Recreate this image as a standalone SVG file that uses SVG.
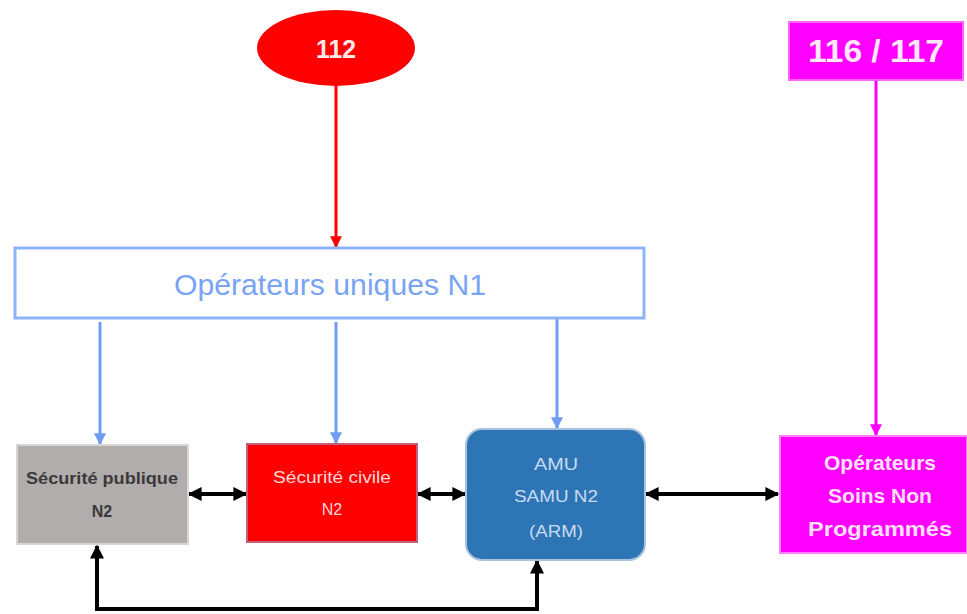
<svg xmlns="http://www.w3.org/2000/svg" width="967" height="614" viewBox="0 0 967 614">
<style>
text{font-family:"Liberation Sans","DejaVu Sans",sans-serif;text-anchor:middle}
.blue{stroke:#6f9cf5;stroke-width:3;fill:none}
.blk{stroke:#000;stroke-width:4;fill:none}
.amu{font-size:17px;fill:#c9dcf0}
</style>
<defs>
<marker id="ab" viewBox="0 0 10 10" refX="9" refY="5" markerWidth="4" markerHeight="4" orient="auto"><path d="M0,0L10,5L0,10z" fill="#6f9cf5"/></marker>
<marker id="ar" viewBox="0 0 10 10" refX="9" refY="5" markerWidth="4" markerHeight="4" orient="auto"><path d="M0,0L10,5L0,10z" fill="#ff0000"/></marker>
<marker id="am" viewBox="0 0 10 10" refX="9" refY="5" markerWidth="4" markerHeight="4" orient="auto"><path d="M0,0L10,5L0,10z" fill="#ff00ff"/></marker>
<marker id="ak" viewBox="0 0 10 10" refX="9" refY="5" markerWidth="3.5" markerHeight="3.5" orient="auto-start-reverse"><path d="M0,0L10,5L0,10z" fill="#000"/></marker>
</defs>
<g id="connectors">
<line x1="336" y1="86" x2="336" y2="247" stroke="#ff0000" stroke-width="3" marker-end="url(#ar)"/>
<line x1="876" y1="80" x2="876" y2="435" stroke="#ff00ff" stroke-width="3" marker-end="url(#am)"/>
<line class="blue" x1="100" y1="322" x2="100" y2="444" marker-end="url(#ab)"/>
<line class="blue" x1="336" y1="322" x2="336" y2="443" marker-end="url(#ab)"/>
<line class="blue" x1="557" y1="318" x2="557" y2="428" marker-end="url(#ab)"/>
<line class="blk" x1="189" y1="494" x2="246" y2="494" marker-start="url(#ak)" marker-end="url(#ak)"/>
<line class="blk" x1="418" y1="494" x2="465" y2="494" marker-start="url(#ak)" marker-end="url(#ak)"/>
<line class="blk" x1="646" y1="494" x2="778" y2="494" marker-start="url(#ak)" marker-end="url(#ak)"/>
<polyline class="blk" points="97,546 97,609 537,609 537,561" marker-start="url(#ak)" marker-end="url(#ak)"/>
</g>
<g id="n112">
<ellipse cx="336" cy="48" rx="79" ry="38" fill="#ff0000"/>
<text x="336" y="58" font-size="26" font-weight="bold" fill="#ffe8e8" textLength="40" lengthAdjust="spacingAndGlyphs">112</text>
</g>
<g id="n116">
<rect x="789" y="22" width="174" height="58" fill="#ff00ff" stroke="#ff66ff" stroke-width="2"/>
<text x="876" y="62" font-size="31" font-weight="bold" fill="#ffe8ff" textLength="136" lengthAdjust="spacingAndGlyphs">116 / 117</text>
</g>
<g id="n1">
<rect x="15" y="248" width="629" height="70" fill="#fff" stroke="#8fb3f8" stroke-width="3"/>
<text x="330" y="295" font-size="29" fill="#7aa3f5" textLength="312" lengthAdjust="spacingAndGlyphs">Opérateurs uniques N1</text>
</g>
<g id="secpub">
<rect x="17" y="445" width="171" height="99" fill="#b1adac" stroke="#d8d6d5" stroke-width="2"/>
<text x="102" y="484" font-size="16" font-weight="bold" fill="#3a3a3a" textLength="152" lengthAdjust="spacingAndGlyphs">Sécurité publique</text>
<text x="102" y="517" font-size="16" font-weight="bold" fill="#3a3a3a">N2</text>
</g>
<g id="seciv">
<rect x="247" y="444" width="170" height="98" fill="#ff0000" stroke="#c0607a" stroke-width="2"/>
<text x="332" y="483" font-size="16" fill="#ffd8d8" textLength="118" lengthAdjust="spacingAndGlyphs">Sécurité civile</text>
<text x="332" y="515" font-size="16" fill="#ffd8d8">N2</text>
</g>
<g id="amu">
<rect x="466" y="429" width="179" height="131" rx="16" fill="#2e75b6" stroke="#a9c3de" stroke-width="2"/>
<text class="amu" x="556" y="470" textLength="44" lengthAdjust="spacingAndGlyphs">AMU</text>
<text class="amu" x="556" y="502" textLength="84" lengthAdjust="spacingAndGlyphs">SAMU N2</text>
<text class="amu" x="556" y="537" textLength="54" lengthAdjust="spacingAndGlyphs">(ARM)</text>
</g>
<g id="osnp">
<rect x="780" y="436" width="187" height="117" fill="#ff00ff" stroke="#ff80ff" stroke-width="2"/>
<text x="880" y="470" font-size="21" font-weight="bold" fill="#ffe0ff">Opérateurs</text>
<text x="880" y="503" font-size="21" font-weight="bold" fill="#ffe0ff">Soins Non</text>
<text x="880" y="536" font-size="21" font-weight="bold" fill="#ffe0ff" textLength="144" lengthAdjust="spacingAndGlyphs">Programmés</text>
</g>
</svg>
